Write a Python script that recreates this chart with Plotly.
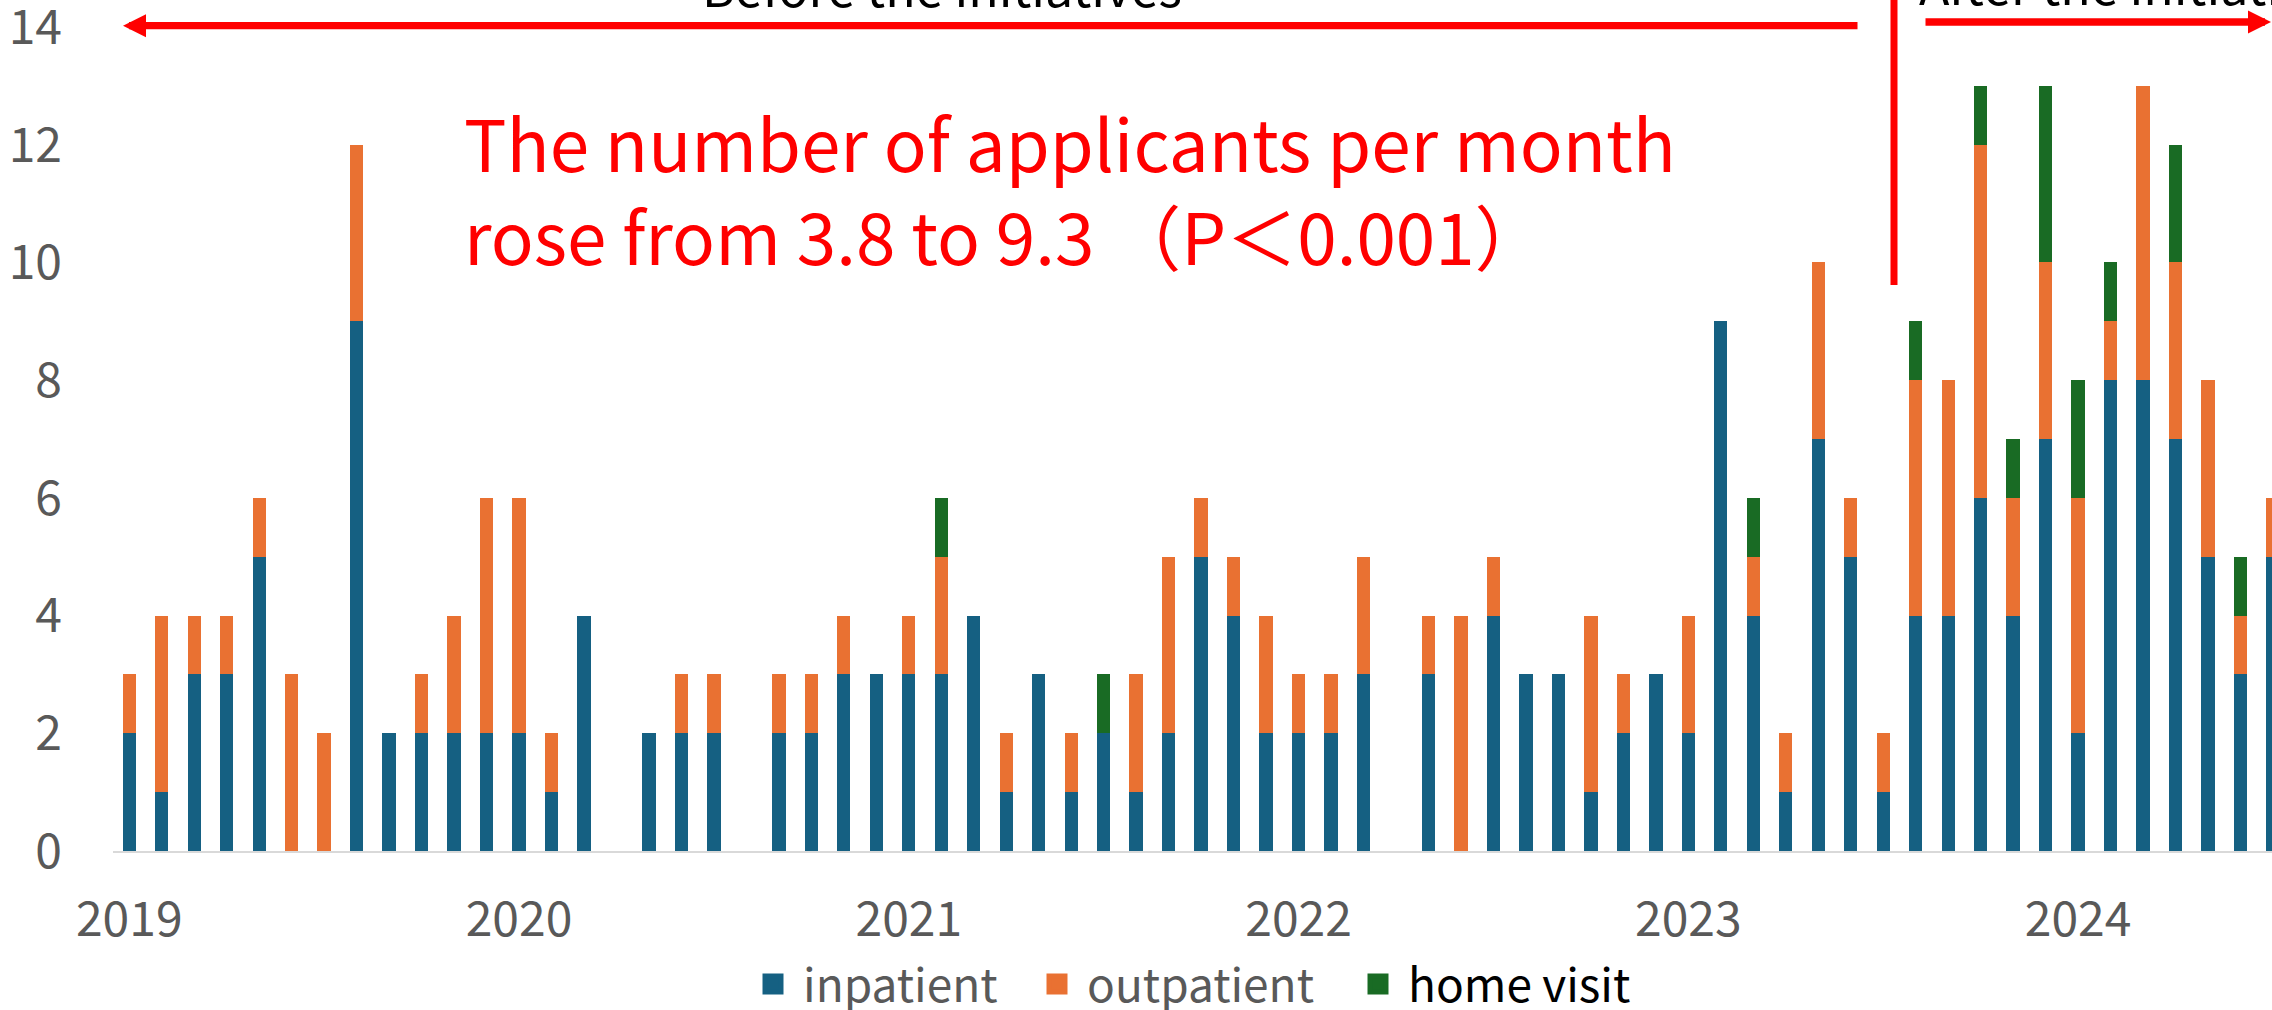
import plotly.graph_objects as go

# ---------------- data ----------------
months = [f"{y}-{m:02d}" for y in range(2019, 2025) for m in range(1, 13)][:67]
year_ticks = ["2019-01", "2020-01", "2021-01", "2022-01", "2023-01", "2024-01"]
year_labels = ["2019", "2020", "2021", "2022", "2023", "2024"]

inpatient = [
    2, 1, 3, 3, 5, 0, 0, 9, 2, 2, 2, 2,   # 2019
    2, 1, 4, 0, 2, 2, 2, 0, 2, 2, 3, 3,   # 2020
    3, 3, 4, 1, 3, 1, 2, 1, 2, 5, 4, 2,   # 2021
    2, 2, 3, 0, 3, 0, 4, 3, 3, 1, 2, 3,   # 2022
    2, 9, 4, 1, 7, 5, 1, 4, 4, 6, 4, 7,   # 2023
    2, 8, 8, 7, 5, 3, 5,                  # 2024
]
outpatient = [
    1, 3, 1, 1, 1, 3, 2, 3, 0, 1, 2, 4,
    4, 1, 0, 0, 0, 1, 1, 0, 1, 1, 1, 0,
    1, 2, 0, 1, 0, 1, 0, 2, 3, 1, 1, 2,
    1, 1, 2, 0, 1, 4, 1, 0, 0, 3, 1, 0,
    2, 0, 1, 1, 3, 1, 1, 4, 4, 6, 2, 3,
    4, 1, 5, 3, 3, 1, 1,
]
home_visit = [
    0, 0, 0, 0, 0, 0, 0, 0, 0, 0, 0, 0,
    0, 0, 0, 0, 0, 0, 0, 0, 0, 0, 0, 0,
    0, 1, 0, 0, 0, 0, 1, 0, 0, 0, 0, 0,
    0, 0, 0, 0, 0, 0, 0, 0, 0, 0, 0, 0,
    0, 0, 1, 0, 0, 0, 0, 1, 0, 1, 1, 3,
    2, 1, 0, 2, 0, 1, 0,
]
series_names = ["inpatient", "outpatient", "home visit"]

# ---------------- style ----------------
FONT = "Noto Sans CJK JP"
COLORS = ["#156082", "#E97132", "#196B24"]
GREY_TXT = "#595959"
RED = "#FF0000"

W, H = 2272, 1010
L, R, T, B = 113, 0, 27, 159


def px_x(p):
    return (p - L) / (W - L - R)


def px_y(p):
    return 1 - (p - T) / (H - T - B)


fig = go.Figure()
legends = ["legend", "legend2", "legend3"]
for name, vals, col, leg in zip(series_names, [inpatient, outpatient, home_visit], COLORS, legends):
    fig.add_bar(x=months, y=vals, name=name, marker_color=col, marker_line_width=0,
                legendgroup=name, showlegend=False)
    # legend entry (larger square swatch), linked to the bars through legendgroup
    fig.add_scatter(x=[None], y=[None], mode="markers", name=name, legend=leg, legendgroup=name,
                    showlegend=True, hoverinfo="skip",
                    marker=dict(symbol="square", size=16, color=col, line=dict(color=col, width=5)))

leg_common = dict(orientation="h", xref="container", yref="container", xanchor="left", yanchor="middle",
                  bgcolor="rgba(0,0,0,0)", borderwidth=0, itemwidth=50)
LEG_Y = 1 - 984 / H
fig.update_layout(
    width=W, height=H,
    margin=dict(l=L, r=R, t=T, b=B, pad=0, autoexpand=False),
    showlegend=True,
    barmode="stack", bargap=0.59,
    plot_bgcolor="white", paper_bgcolor="white",
    font=dict(family=FONT, size=48, color=GREY_TXT),
    legend=dict(x=743 / W, y=LEG_Y, font=dict(family=FONT, size=46, color=GREY_TXT), **leg_common),
    legend2=dict(x=1027 / W, y=LEG_Y, font=dict(family=FONT, size=46, color=GREY_TXT), **leg_common),
    legend3=dict(x=1348 / W, y=LEG_Y, font=dict(family=FONT, size=46, color="#000000"), **leg_common),
    xaxis=dict(type="category", range=[-0.5, 65.97], tickmode="array", tickvals=year_ticks,
               ticktext=year_labels, showline=True, linecolor="#D9D9D9", linewidth=2,
               showgrid=False, zeroline=False, ticks="", ticklabelstandoff=25, automargin=False,
               tickfont=dict(family=FONT, size=48, color=GREY_TXT)),
    yaxis=dict(range=[0, 14], dtick=2, tick0=0, showline=False, showgrid=False, zeroline=False,
               ticks="", ticklabelstandoff=50, automargin=False, ticklabeloverflow="allow",
               tickfont=dict(family=FONT, size=48, color=GREY_TXT)),
)

# red statistical text
fig.add_annotation(xref="paper", yref="paper", x=px_x(462), y=px_y(141), xanchor="left", yanchor="middle",
                   text="The number of applicants per month", showarrow=False,
                   font=dict(family=FONT, size=71, color=RED))
fig.add_annotation(xref="paper", yref="paper", x=px_x(462), y=px_y(234), xanchor="left", yanchor="middle",
                   text="rose from 3.8 to 9.3 （P＜0.001）", showarrow=False,
                   font=dict(family=FONT, size=71, color=RED))

# period labels (cropped at top)
fig.add_annotation(xref="paper", yref="paper", x=px_x(700), y=px_y(-15), xanchor="left", yanchor="middle",
                   text="Before the initiatives", showarrow=False,
                   font=dict(family=FONT, size=50, color="#000000"))
fig.add_annotation(xref="paper", yref="paper", x=px_x(1917), y=px_y(-17), xanchor="left", yanchor="middle",
                   text="After the initiatives", showarrow=False,
                   font=dict(family=FONT, size=50, color="#000000"))

# arrows (tail given as pixel offset from the tip)
fig.add_annotation(xref="paper", yref="paper", axref="pixel", ayref="pixel",
                   x=px_x(123), y=px_y(25.7), ax=1859 - 123, ay=0, text="",
                   showarrow=True, arrowhead=2, arrowwidth=7.3, arrowsize=0.63, arrowcolor=RED)
fig.add_annotation(xref="paper", yref="paper", axref="pixel", ayref="pixel",
                   x=px_x(2286), y=px_y(22), ax=1924 - 2286, ay=0, text="",
                   showarrow=True, arrowhead=2, arrowwidth=7.3, arrowsize=0.63, arrowcolor=RED)

# divider line
fig.add_shape(type="line", xref="paper", yref="paper", x0=px_x(1894), x1=px_x(1894),
              y0=px_y(285), y1=px_y(-20), line=dict(color=RED, width=7))

fig.write_html("out.html", config={"displayModeBar": False},
               post_script="document.body.style.margin='0px';document.body.style.overflow='hidden';")
